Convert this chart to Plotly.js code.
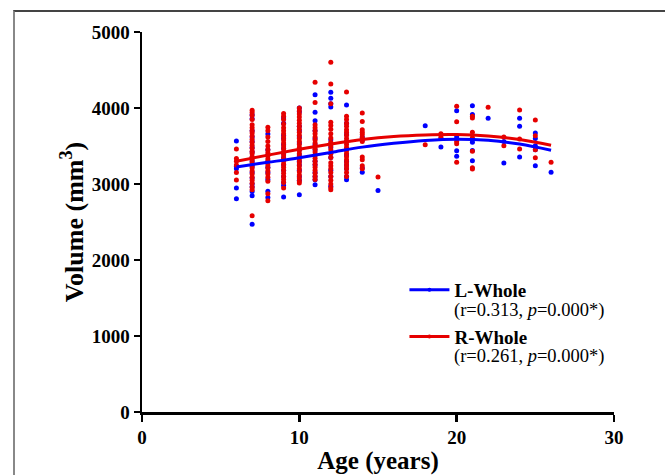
<!DOCTYPE html>
<html>
<head>
<meta charset="utf-8">
<script src="https://cdn.plot.ly/plotly-3.0.1.min.js"></script>
<style>
  html, body { margin: 0; padding: 0; background: #fff; }
  #wrap { position: relative; width: 665px; height: 475px; overflow: hidden; }
  #chart { position: absolute; left: 0; top: 0; width: 665px; height: 475px; }
  #frame { position: absolute; left: 13px; top: 10px; width: 660px; height: 470px;
           border-top: 2px solid #444; border-left: 2px solid #888; pointer-events: none; }
</style>
</head>
<body>
<div id="wrap">
  <div id="chart"></div>
  <div id="frame"></div>
</div>
<script>
// Age groups (years)
const ages = [6, 7, 8, 9, 10, 11, 12, 13, 14, 15, 18, 19, 20, 21, 22, 23, 24, 25, 26];

// L-Whole volumes (mm^3), one list per age group
const leftVolumes = [
  [3565, 3235, 3200, 2946, 2805],
  [3912, 3860, 3700, 3620, 3560, 3480, 3420, 3350, 3300, 3230, 3150, 3080, 3000, 2960, 2900, 2846, 2469],
  [3658, 3450, 3380, 3300, 3220, 3150, 3060, 2903, 2822],
  [3870, 3800, 3640, 3600, 3520, 3470, 3400, 3350, 3250, 3180, 3100, 3020, 2980, 2829],
  [4000, 3950, 3760, 3700, 3620, 3540, 3450, 3380, 3300, 3250, 3180, 3100, 3050, 2860],
  [4175, 3943, 3833, 3700, 3600, 3520, 3450, 3380, 3300, 3250, 3150, 3100, 3057, 2991],
  [4206, 4127, 4057, 4014, 3583, 3480, 3400, 3350, 3180, 3100, 2969],
  [4040, 3800, 3650, 3560, 3450, 3380, 3300, 3250, 3200, 3100, 3057],
  [3620, 3580, 3211, 3153],
  [2916],
  [3768],
  [3600, 3487],
  [3965, 3619, 3439, 3364],
  [4031, 3913, 3585, 3548, 3440, 3307],
  [3864],
  [3560, 3277],
  [3864, 3759, 3356],
  [3672, 3600, 3504, 3450, 3241],
  [3153]
];

// R-Whole volumes (mm^3), one list per age group
const rightVolumes = [
  [3460, 3337, 3300, 3250, 3152, 3051],
  [3969, 3940, 3900, 3850, 3780, 3740, 3700, 3670, 3630, 3590, 3550, 3510, 3470, 3430, 3400, 3360, 3320, 3280, 3250, 3210, 3170, 3130, 3090, 3050, 3010, 2960, 2925, 2583],
  [3746, 3700, 3620, 3560, 3500, 3450, 3410, 3370, 3330, 3290, 3250, 3210, 3170, 3130, 3090, 3035, 2873, 2781],
  [3926, 3890, 3850, 3790, 3740, 3700, 3660, 3620, 3580, 3540, 3500, 3460, 3420, 3380, 3340, 3300, 3260, 3220, 3180, 3140, 3100, 3060, 3020, 2948],
  [4000, 3960, 3920, 3880, 3840, 3800, 3760, 3720, 3680, 3640, 3600, 3560, 3520, 3480, 3440, 3400, 3360, 3320, 3280, 3240, 3200, 3160, 3120, 3080, 3040, 3013],
  [4338, 4074, 3780, 3740, 3700, 3660, 3620, 3580, 3540, 3500, 3460, 3420, 3380, 3340, 3300, 3260, 3220, 3180, 3140, 3100, 3060],
  [4601, 4316, 4057, 3811, 3770, 3720, 3660, 3606, 3550, 3500, 3450, 3400, 3350, 3280, 3240, 3200, 3150, 3100, 3050, 3000, 2950, 2925],
  [4211, 3890, 3850, 3800, 3760, 3715, 3680, 3640, 3600, 3560, 3520, 3480, 3440, 3400, 3360, 3320, 3280, 3240, 3200, 3150, 3100],
  [3935, 3824, 3715, 3680, 3650, 3610, 3560, 3356, 3320, 3240, 3200],
  [3092],
  [3518],
  [3662, 3620],
  [4022, 3820, 3560, 3531, 3285],
  [3890, 3870, 3680, 3610, 3430, 3215, 3198],
  [4009],
  [3619, 3504],
  [3974, 3593, 3461],
  [3843, 3636, 3452, 3347],
  [3285]
];

// Fitted (quadratic) curves
const fitAges  = [6, 8, 10, 12, 14, 16, 18, 20, 22, 24, 26];
const fitLeft  = [3225, 3285, 3346, 3415, 3485, 3535, 3572, 3590, 3575, 3525, 3443];
const fitRight = [3300, 3380, 3456, 3525, 3585, 3625, 3645, 3650, 3630, 3585, 3509];

const seriesNames = ['L-Whole', 'R-Whole'];
const seriesStats = ['(r=0.313, <i>p</i>=0.000*)', '(r=0.261, <i>p</i>=0.000*)'];

const BLUE = '#0000ff';
const RED = '#e60000';

function flatten(groups) {
  const xs = [], ys = [];
  groups.forEach((g, i) => g.forEach(v => { xs.push(ages[i]); ys.push(v); }));
  return { xs, ys };
}
const L = flatten(leftVolumes);
const R = flatten(rightVolumes);

const traces = [
  { x: L.xs, y: L.ys, type: 'scatter', mode: 'markers', showlegend: false,
    marker: { color: BLUE, size: 5 }, hoverinfo: 'x+y' },
  { x: R.xs, y: R.ys, type: 'scatter', mode: 'markers', showlegend: false,
    marker: { color: RED, size: 5 }, hoverinfo: 'x+y' },
  { x: fitAges, y: fitLeft, type: 'scatter', mode: 'lines', showlegend: false,
    line: { color: BLUE, width: 3, shape: 'spline' } },
  { x: fitAges, y: fitRight, type: 'scatter', mode: 'lines', showlegend: false,
    line: { color: RED, width: 3, shape: 'spline' } },
  // legend keys
  { x: [null], y: [null], type: 'scatter', mode: 'lines+markers', name: '<b>' + seriesNames[0] + '</b>',
    legendgroup: 'L', line: { color: BLUE, width: 3 }, marker: { color: BLUE, size: 4 } },
  { x: [null], y: [null], type: 'scatter', mode: 'lines+markers', name: '<b>' + seriesNames[1] + '</b>',
    legendgroup: 'R', line: { color: RED, width: 3 }, marker: { color: RED, size: 4 } }
];

const serif = 'Liberation Serif, Times New Roman, serif';

const layout = {
  width: 665, height: 475,
  margin: { l: 142, r: 51, t: 32, b: 63 },
  paper_bgcolor: 'rgba(0,0,0,0)',
  plot_bgcolor: '#fff',
  font: { family: serif, color: '#000' },
  showlegend: true,
  legend: {
    x: 0.556, xanchor: 'left', y: 0.371, yanchor: 'top',
    bgcolor: 'rgba(0,0,0,0)', borderwidth: 0,
    font: { family: serif, size: 19, color: '#000' },
    valign: 'middle', itemwidth: 40, tracegroupgap: 19
  },
  annotations: [
    { text: seriesStats[0], xref: 'paper', yref: 'paper', x: 0.657, y: 0.268,
      xanchor: 'left', yanchor: 'middle', showarrow: false,
      font: { family: serif, size: 18.5, color: '#000' } },
    { text: seriesStats[1], xref: 'paper', yref: 'paper', x: 0.657, y: 0.145,
      xanchor: 'left', yanchor: 'middle', showarrow: false,
      font: { family: serif, size: 18.5, color: '#000' } }
  ],
  xaxis: {
    range: [0, 30], tickvals: [0, 10, 20, 30], ticktext: ['0', '10', '20', '30'],
    showline: true, linecolor: '#000', linewidth: 2.5,
    ticks: 'outside', ticklen: 7, tickwidth: 2.5, tickcolor: '#000',
    showgrid: false, zeroline: false,
    tickfont: { family: serif, size: 19, weight: 'bold', color: '#000' },
    title: { text: '<b>Age (years)</b>', font: { family: serif, size: 25, color: '#000' }, standoff: 5 }
  },
  yaxis: {
    range: [0, 5000], tickvals: [0, 1000, 2000, 3000, 4000, 5000],
    showline: true, linecolor: '#000', linewidth: 2.5,
    ticks: 'outside', ticklen: 6, tickwidth: 2.5, tickcolor: '#000',
    showgrid: false, zeroline: false,
    tickfont: { family: serif, size: 19, weight: 'bold', color: '#000' },
    title: { text: '<b>Volume (mm<sup>3</sup>)</b>', font: { family: serif, size: 26, color: '#000' }, standoff: 1 }
  }
};

Plotly.newPlot('chart', traces, layout, { displayModeBar: false, staticPlot: true });
</script>
</body>
</html>
